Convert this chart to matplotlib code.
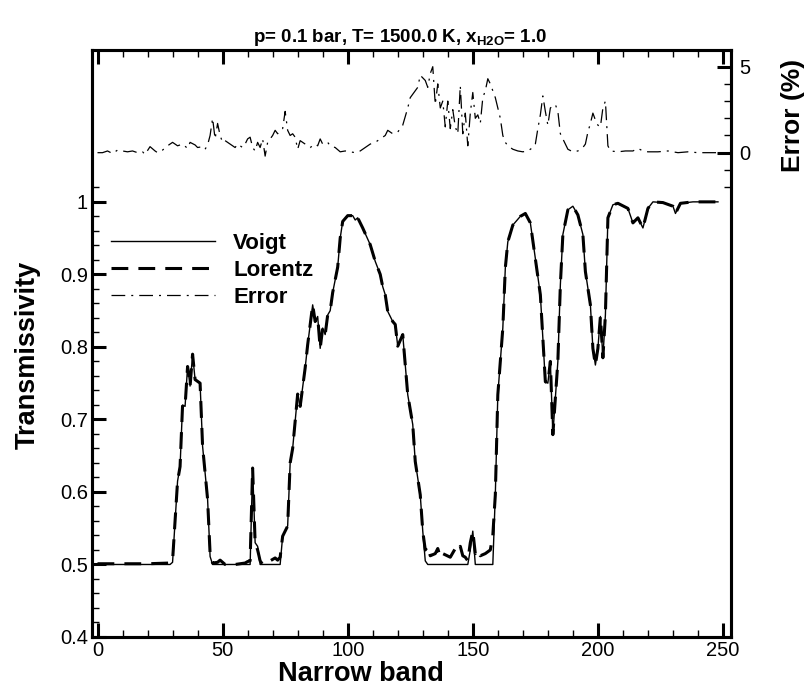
import matplotlib
matplotlib.use('Agg')
import matplotlib.pyplot as plt
from matplotlib.ticker import FixedLocator, MultipleLocator, FixedFormatter

plt.rcParams['font.family'] = ['Liberation Sans', 'DejaVu Sans']
plt.rcParams['mathtext.fontset'] = 'custom'
plt.rcParams['mathtext.rm'] = 'Liberation Sans'
plt.rcParams['mathtext.bf'] = 'Liberation Sans:bold'

# ---------------- data ----------------
band_v = [0, 10, 20, 29, 30, 32, 33, 34, 35, 36, 37, 38, 39, 41, 42, 44, 45, 46,
          61, 62, 63, 64, 65, 73, 74, 76, 77, 78, 80, 81, 83, 84, 86, 87, 88, 89,
          90, 91, 92, 93, 94, 96, 97, 98, 100, 102, 103, 104, 106, 109, 111, 113,
          114, 115, 116, 118, 119, 120, 122, 124, 126, 127, 129, 130, 131, 132,
          148, 149, 150, 151, 158, 159, 160, 162, 163, 164, 166, 169, 171, 173,
          175, 177, 178, 179, 180, 181, 182, 184, 185, 186, 188, 190, 192, 194,
          195, 197, 198, 199, 200, 201, 202, 203, 204, 206, 208, 212, 214, 216,
          218, 220, 222, 226, 230, 231, 233, 238, 248]
trans_v = [0.5, 0.5, 0.5, 0.5, 0.503, 0.615, 0.635, 0.72, 0.718, 0.773, 0.746,
           0.79, 0.755, 0.75, 0.663, 0.59, 0.511, 0.5,
           0.5, 0.633, 0.53, 0.525, 0.5, 0.5, 0.539, 0.553, 0.64, 0.66, 0.735,
           0.718, 0.771, 0.803, 0.858, 0.835, 0.842, 0.798,
           0.826, 0.817, 0.844, 0.85, 0.875, 0.91, 0.95, 0.973, 0.981, 0.981,
           0.975, 0.978, 0.964, 0.941, 0.918, 0.9,
           0.883, 0.872, 0.849, 0.835, 0.831, 0.801, 0.817, 0.734, 0.693, 0.642,
           0.596, 0.546, 0.505, 0.5,
           0.5, 0.52, 0.546, 0.5, 0.5, 0.596, 0.734, 0.826, 0.909, 0.945, 0.968,
           0.98, 0.984, 0.971,
           0.922, 0.872, 0.812, 0.752, 0.75, 0.78, 0.679, 0.78, 0.886, 0.955,
           0.989, 0.994, 0.982, 0.955,
           0.904, 0.858, 0.798, 0.775, 0.798, 0.842, 0.785, 0.844, 0.978, 0.996,
           0.998, 0.991, 0.971, 0.978,
           0.964, 0.991, 1.0, 0.999, 0.994, 0.984, 0.998, 1.0, 1.0]

band_l = [0, 10, 20, 29, 30, 32, 33, 34, 35, 36, 37, 38, 39, 41, 42, 44, 45, 46,
          48, 49, 50, 51, 55, 59, 60, 61, 62, 63, 64, 65, 66, 67, 69, 71, 72, 73,
          74, 76, 77, 78, 80, 81, 83, 84, 86, 87, 88, 89,
          90, 91, 92, 93, 94, 96, 97, 98, 100, 102, 103, 104, 106, 109, 111, 113,
          114, 115, 116, 118, 119, 120, 122, 124, 126, 127, 129, 130, 131, 132,
          133, 135, 136, 137, 138, 141, 143, 144, 145, 146, 147, 148,
          149, 150, 151, 152, 153, 155, 157, 158, 159, 160, 162, 163, 164, 166,
          169, 171, 173,
          175, 177, 178, 179, 180, 181, 182, 184, 185, 186, 188, 190, 192, 194,
          195, 197, 198, 199, 200, 201, 202, 203, 204, 206, 208, 212, 214, 216,
          218, 220, 222, 226, 230, 231, 233, 238, 248]
trans_l = [0.501, 0.501, 0.501, 0.502, 0.505, 0.615, 0.635, 0.72, 0.718, 0.773,
           0.746, 0.79, 0.755, 0.75, 0.663, 0.59, 0.515, 0.502,
           0.503, 0.506, 0.503, 0.5, 0.5, 0.502, 0.504, 0.505, 0.633, 0.53, 0.52,
           0.505, 0.5, 0.502, 0.505, 0.509, 0.506, 0.51,
           0.539, 0.553, 0.64, 0.66, 0.735, 0.718, 0.771, 0.803, 0.858, 0.835,
           0.842, 0.798,
           0.826, 0.817, 0.844, 0.85, 0.875, 0.91, 0.95, 0.973, 0.981, 0.981,
           0.975, 0.978, 0.964, 0.941, 0.918, 0.9,
           0.883, 0.872, 0.849, 0.835, 0.831, 0.801, 0.817, 0.734, 0.693, 0.642,
           0.596, 0.546, 0.52, 0.525,
           0.512, 0.515, 0.522, 0.51, 0.515, 0.51, 0.522, 0.518, 0.525, 0.512,
           0.51, 0.505,
           0.53, 0.546, 0.515, 0.52, 0.512, 0.515, 0.52, 0.54, 0.596, 0.734,
           0.826, 0.909, 0.945, 0.968,
           0.98, 0.984, 0.971,
           0.922, 0.872, 0.812, 0.752, 0.75, 0.78, 0.679, 0.78, 0.886, 0.955,
           0.989, 0.994, 0.982, 0.955,
           0.904, 0.858, 0.798, 0.775, 0.798, 0.842, 0.785, 0.844, 0.978, 0.996,
           0.998, 0.991, 0.971, 0.978,
           0.964, 0.991, 1.0, 0.999, 0.994, 0.984, 0.998, 1.0, 1.0]

band_e = [0, 2, 4, 6, 8, 10, 12, 14, 16, 18, 19, 21, 23, 24, 26, 28, 30, 32, 34,
          36, 37, 39, 40, 42, 43, 44, 45, 46, 47, 48, 49, 50, 51, 53, 55, 56, 58,
          59, 60, 61, 62, 63, 64, 65, 66, 67, 68, 70, 71, 72, 73, 74, 75, 76, 77,
          78, 79, 80, 81, 82, 83, 85, 87, 88, 89, 90, 92, 93, 95, 97, 99, 101,
          103, 105, 107, 109, 111, 113, 115, 116, 118, 120, 122, 124, 125, 127,
          128, 129, 131, 132, 133, 134, 135, 136, 137, 138, 139, 140, 141, 142,
          143, 144, 145, 146, 147, 148, 149, 150, 151, 152, 153, 154, 155, 156,
          157, 158, 159, 160, 161, 162, 163, 164, 166, 168, 170, 172, 174, 175,
          176, 177, 178, 179, 180, 181, 182, 183, 184, 185, 186, 187, 188, 190,
          192, 194, 195, 196, 197, 198, 199, 200, 201, 202, 203, 204, 205, 208,
          211, 214, 216, 218, 220, 224, 228, 232, 236, 240, 248]
err = [0.0, 0.0, 0.1, -0.05, 0.15, 0.1, 0.05, 0.1, 0.0, 0.05, -0.1, 0.35, 0.1,
       0.0, 0.15, 0.4, 0.6, 0.4, 0.5,
       0.25, 0.6, 0.45, 0.3, 0.35, 0.2, 0.45, 1.0, 2.0, 0.8, 1.7, 1.0, 0.6, 0.7,
       0.5, 0.3, 0.5, 0.3,
       0.5, 0.8, 0.9, 0.3, 0.1, 0.6, 0.3, 0.8, -0.2, 0.6, 1.0, 1.3, 1.1, 1.3,
       1.4, 2.4, 1.3, 1.0,
       1.1, 0.9, 0.2, 0.7, 0.6, 0.5, 0.3, 0.5, 0.4, 0.8, 0.5, 0.6, 0.4, 0.3,
       0.05, 0.1, 0.05,
       0.0, 0.1, 0.3, 0.5, 0.6, 0.8, 1.0, 1.3, 1.1, 1.2, 1.6, 2.6, 3.2, 3.6,
       3.8, 4.5, 4.2, 3.8, 4.6, 5.0, 2.8, 4.0, 2.6, 3.0, 1.5, 3.0, 1.4, 2.5,
       1.5, 1.1, 3.9, 1.1, 2.3, 0.4, 2.3, 3.5, 2.0, 2.2, 1.7, 3.2, 3.6, 4.3,
       4.0, 3.6, 3.2, 2.6, 2.0, 1.0, 0.6, 0.4, 0.2, 0.1, 0.05, 0.1, 0.3, 0.5,
       1.4, 2.2, 3.3, 2.4, 1.6, 2.6, 2.7, 2.8, 2.4, 1.1, 0.8, 0.5, 0.2, 0.05,
       0.1, 0.3, 0.5, 1.2, 1.7, 2.3, 1.9, 1.6, 1.5, 2.6, 3.0, 0.4, 0.1, 0.05,
       0.1, 0.1, 0.25, 0.1, 0.05, 0.05, 0.1, 0.0, 0.05, 0.0, 0.0]

trans_ticks = [0.4, 0.5, 0.6, 0.7, 0.8, 0.9, 1.0]
trans_ticklabels = ['0.4', '0.5', '0.6', '0.7', '0.8', '0.9', '1']
err_ticks = [0, 5]
err_ticklabels = ['0', '5']

# ---------------- figure ----------------
W, H = 806, 692
fig = plt.figure(figsize=(W / 100, H / 100), dpi=100)
L, R, B, T = 92, 731, 637, 50
ax = fig.add_axes([L / W, 1 - B / H, (R - L) / W, (B - T) / H])
ax2 = ax.twinx()

l_lor, = ax.plot(band_l, trans_l, color='black', lw=2.2, ls=(0, (5.5, 3.3)),
                 label='Lorentz', zorder=2)
l_voi, = ax.plot(band_v, trans_v, color='black', lw=1.0, ls='-',
                 label='Voigt', zorder=3)
l_err, = ax2.plot(band_e, err, color='black', lw=0.9,
                  ls=(0, (11, 4.8, 1.6, 4.8)), label='Error')

ax.set_xlim(-2.2, 253.2)
ax.set_ylim(0.4, 1.2094)
ax2.set_ylim(-28.16, 5.97)

ax.xaxis.set_major_locator(MultipleLocator(50))
ax.xaxis.set_minor_locator(MultipleLocator(10))
ax.yaxis.set_major_locator(FixedLocator(trans_ticks))
ax.yaxis.set_major_formatter(FixedFormatter(trans_ticklabels))
ax.yaxis.set_minor_locator(FixedLocator([0.4 + 0.02 * i for i in range(32)]))
ax2.yaxis.set_major_locator(FixedLocator(err_ticks))
ax2.yaxis.set_major_formatter(FixedFormatter(err_ticklabels))
ax2.yaxis.set_minor_locator(FixedLocator([-2, -1, 1, 2, 3, 4]))

for a in (ax, ax2):
    for s in a.spines.values():
        s.set_linewidth(2.2)
ax.tick_params(which='both', direction='in', top=True, right=False,
               labelsize=14.5, pad=3)
ax.tick_params(which='major', length=10, width=2.2)
ax.tick_params(which='minor', length=5, width=1.0)
ax2.tick_params(which='both', direction='in', left=False, right=True,
                labelsize=14.5, pad=6)
ax2.tick_params(which='major', length=10, width=2.2)
ax2.tick_params(which='minor', length=5, width=1.0)

leg = ax.legend(handles=[l_voi, l_lor, l_err], loc='upper left',
                bbox_to_anchor=((111 - L) / (R - L), (B - 233) / (B - T)),
                frameon=False, borderpad=0, borderaxespad=0,
                handlelength=4.7, handletextpad=0.8, labelspacing=0.27,
                prop={'weight': 'bold', 'size': 16})

fig.text(400 / W, 1 - 38 / H,
         r'p= 0.1 bar, T= 1500.0 K, x$_{\mathbf{H2O}}$= 1.0',
         ha='center', va='center', fontsize=13.5, fontweight='bold')
fig.text(361 / W, 1 - 681 / H, 'Narrow band', ha='center', va='baseline',
         fontsize=19.5, fontweight='bold')
fig.text(28 / W, 1 - 355 / H, 'Transmissivity', ha='center', va='center',
         rotation=90, fontsize=19.5, fontweight='bold')
fig.text(793 / W, 1 - 115 / H, 'Error (%)', ha='center', va='center',
         rotation=90, fontsize=19, fontweight='bold')

fig.savefig('out.png', dpi=100)
